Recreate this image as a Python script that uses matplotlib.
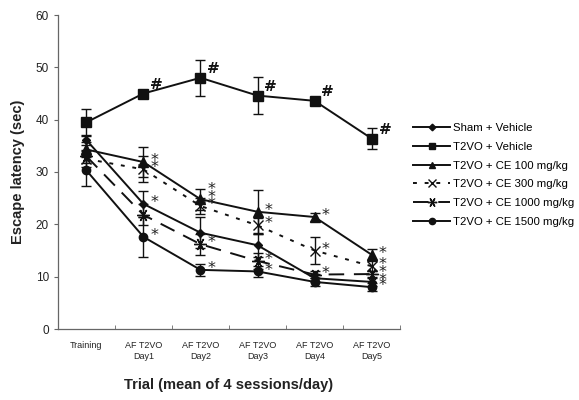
import numpy as np
import matplotlib
matplotlib.use("Agg")
import matplotlib.pyplot as plt
from matplotlib.lines import Line2D

plt.rcParams['font.family'] = ['Liberation Sans', 'DejaVu Sans']

days = ["Training", "AF T2VO\nDay1", "AF T2VO\nDay2", "AF T2VO\nDay3", "AF T2VO\nDay4", "AF T2VO\nDay5"]

sham = [36.1, 23.9, 18.4, 16.0, 9.7, 9.0]
sham_err = [1.0, 2.5, 3.0, 2.2, 0.8, 0.8]
vehicle = [39.5, 45.0, 48.0, 44.6, 43.6, 36.4]
vehicle_err = [2.6, 0.6, 3.4, 3.6, 0.5, 2.1]
ce100 = [34.3, 31.9, 24.8, 22.4, 21.4, 14.2]
ce100_err = [1.5, 2.9, 2.0, 4.2, 0.8, 1.0]
ce300 = [32.5, 30.5, 23.5, 19.8, 15.0, 12.0]
ce300_err = [1.5, 2.5, 1.5, 1.5, 2.6, 1.0]
ce1000 = [33.0, 21.8, 16.2, 13.0, 10.4, 10.5]
ce1000_err = [1.2, 2.0, 2.0, 1.5, 0.6, 0.6]
ce1500 = [30.3, 17.6, 11.3, 11.0, 9.0, 8.0]
ce1500_err = [3.0, 3.8, 1.2, 1.0, 0.8, 0.8]

labels = ["Sham + Vehicle", "T2VO + Vehicle", "T2VO + CE 100 mg/kg",
          "T2VO + CE 300 mg/kg", "T2VO + CE 1000 mg/kg", "T2VO + CE 1500 mg/kg"]

# significance marks per day (number of symbols next to each point)
sham_stars = [0, 1, 0, 0, 0, 1]
vehicle_hash = [0, 1, 1, 1, 1, 1]
ce100_stars = [0, 1, 2, 1, 1, 1]
ce300_stars = [0, 1, 1, 1, 1, 1]
ce1000_stars = [0, 0, 1, 1, 1, 1]
ce1500_stars = [0, 1, 1, 1, 0, 1]

fig = plt.figure(figsize=(5.79, 4.0), dpi=100)
ax = fig.add_axes([0.100, 0.1775, 0.591, 0.785])

x = np.arange(len(days))
col = '#111111'
styles = [
    dict(marker='D', ms=4.5, ls='-'),
    dict(marker='s', ms=6.5, ls='-'),
    dict(marker='^', ms=6.5, ls='-'),
    dict(marker='x', ms=7, mew=1.0, ls=(0, (2, 4))),
    dict(marker=(6, 2, 90), ms=9, mew=1.0, ls=(0, (8, 5))),
    dict(marker='o', ms=6, ls='-'),
]
data = [(sham, sham_err), (vehicle, vehicle_err), (ce100, ce100_err),
        (ce300, ce300_err), (ce1000, ce1000_err), (ce1500, ce1500_err)]
handles = []
for (y, e), st, lab in zip(data, styles, labels):
    ax.errorbar(x, y, yerr=e, color=col, lw=1.4, elinewidth=1.0, capsize=3.5,
                capthick=1.0, **st)
    handles.append(Line2D([], [], color=col, lw=1.4, **st))

marks = [(sham, sham_stars, '*'), (vehicle, vehicle_hash, '#'), (ce100, ce100_stars, '*'),
         (ce300, ce300_stars, '*'), (ce1000, ce1000_stars, '*'), (ce1500, ce1500_stars, '*')]
for y, counts, sym in marks:
    for i, n in enumerate(counts):
        for k in range(n):
            if sym == '#':
                ax.annotate(sym, (x[i], y[i]), xytext=(5, 6), textcoords='offset points',
                            fontsize=11, fontweight='bold', color=col, ha='left', va='center',
                            family='DejaVu Serif')
            else:
                ax.annotate(sym, (x[i], y[i]), xytext=(5, 1 + 6 * k), textcoords='offset points',
                            fontsize=11.5, color='#222222', ha='left', va='center', family='DejaVu Sans')

ax.set_xlim(-0.5, 5.5)
ax.set_ylim(0, 60)
ax.set_yticks(range(0, 61, 10))
ax.set_xticks(x)
ax.set_xticklabels(days, fontsize=6.5, color='#222222')
ax.set_xticks(np.arange(-0.5, 5.6, 1), minor=True)
ax.tick_params(axis='x', which='major', length=0, pad=9)
ax.tick_params(axis='x', which='minor', length=3, direction='in', color='#666666')
ax.tick_params(axis='y', labelsize=8.5, length=3, color='#666666', labelcolor='#222222')
for s in ['top', 'right']:
    ax.spines[s].set_visible(False)
for s in ['left', 'bottom']:
    ax.spines[s].set_color('#666666')
    ax.spines[s].set_linewidth(0.9)

ax.set_ylabel("Escape latency (sec)", fontsize=10.5, fontweight='bold', color='#222222', labelpad=8)
ax.set_xlabel("Trial (mean of 4 sessions/day)", fontsize=10.5, fontweight='bold', color='#222222', labelpad=12)

fig.legend(handles, labels, loc='upper left', bbox_to_anchor=(0.713, 0.693),
           bbox_transform=fig.transFigure, frameon=False, fontsize=8.2, markerscale=0.75,
           handlelength=3.3, handletextpad=0.2, labelspacing=0.78, borderpad=0, borderaxespad=0)

fig.savefig("out.png", dpi=100)
